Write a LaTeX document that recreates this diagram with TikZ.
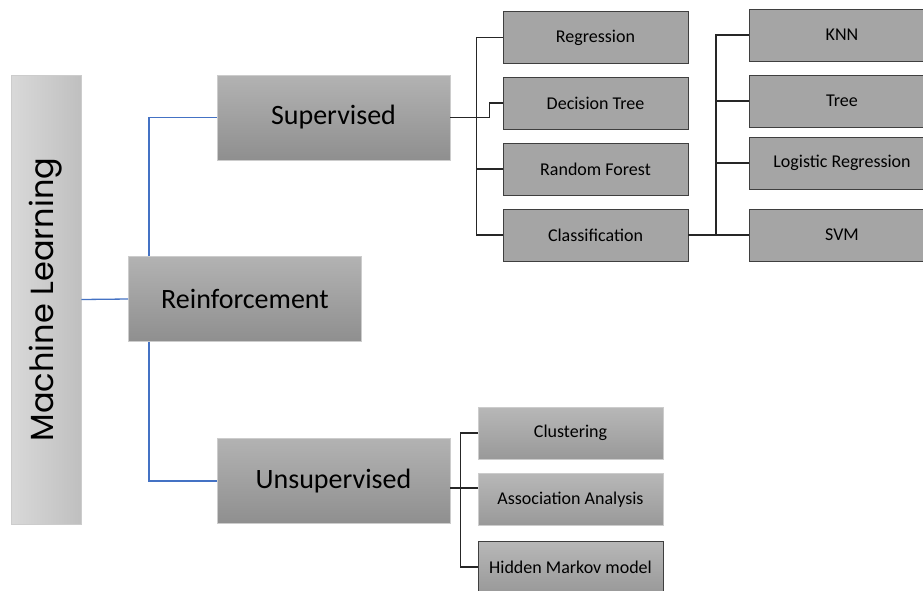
\documentclass[tikz,border=0pt]{standalone}
\usepackage{fontspec}
\setmainfont{Carlito}
\newfontfamily\mlfont{Poppins}
\usepackage{tikz}
\usetikzlibrary{positioning,calc}
\definecolor{mlBlue}{HTML}{4472C4}
\definecolor{mlEdge}{HTML}{3F3F3F}
\definecolor{mlFill}{HTML}{A5A5A5}
\tikzset{
  gbox/.style={draw=#1, line width=0.8pt, align=center, inner sep=2pt},
  gbox/.default={black!20},
  topbox/.style={gbox, top color=black!30, bottom color=black!44,
    minimum width=233pt, minimum height=85pt, font=\fontsize{28}{30}\selectfont},
  leafbox/.style={gbox=mlEdge, fill=mlFill,
    minimum width=185pt, minimum height=52pt, font=\fontsize{18}{20}\selectfont},
  softleaf/.style={leafbox, draw=black!20, top color=black!28, bottom color=black!40},
  link/.style={line width=1.3pt, black!85},
  blink/.style={line width=1.3pt, mlBlue},
}
\begin{document}
\begin{tikzpicture}[x=1pt, y=-1pt]
\useasboundingbox[fill=white] (0,0) rectangle (923,590);
% root and first level
\node[gbox, left color=black!15, right color=black!25, minimum width=70pt, minimum height=449pt]
  (ml) at (46,299.5) {\rotatebox{90}{\mlfont\fontsize{32}{34}\selectfont Machine Learning}};
\node[topbox] (rein) at (245,299) {Reinforcement};
\node[topbox] (sup) at (333.5,117.5) {Supervised};
\node[topbox] (uns) at (333.5,481) {Unsupervised};
\draw[blink] (ml.east) -- (rein.west);
\draw[blink] ([xshift=21pt]rein.north west) |- (sup.west);
\draw[blink] ([xshift=21pt]rein.south west) |- (uns.west);
% supervised
\node[leafbox] (reg) at (595.5,37.5) {Regression};
\node[leafbox] (dt) at (595.5,103) {Decision Tree};
\node[leafbox] (rf) at (595.5,169) {Random Forest};
\node[leafbox] (cls) at (595.5,235) {Classification};
\draw[link] (reg.west) -- ++(-26,0) |- (cls.west);
\draw[link] (rf.west) -- ++(-26,0);
\draw[link] (sup.east) -| ([xshift=-13pt]dt.west) -- (dt.west);
% classification
\node[leafbox] (knn) at (842,35) {KNN};
\node[leafbox] (tree) at (842,101) {Tree};
\node[leafbox] (lr) at (842,163) {Logistic Regression};
\node[leafbox] (svm) at (842,235) {SVM};
\draw[link] (knn.west) -- ++(-33,0) |- (svm.west);
\foreach \n in {tree,lr} \draw[link] (\n.west) -- ++(-33,0);
\draw[link] (cls.east) -- (svm.west);
% unsupervised
\node[softleaf] (clu) at (570.5,433) {Clustering};
\node[softleaf] (aa) at (570.5,499.5) {Association Analysis};
\node[softleaf, draw=mlEdge] (hmm) at (570.5,567) {Hidden Markov model};
\draw[link] (clu.west) -- ++(-17,0) |- (hmm.west);
\draw[link] ([yshift=-7pt]uns.east) -- ([yshift=-7pt]uns.east -| aa.west);
\end{tikzpicture}
\end{document}
